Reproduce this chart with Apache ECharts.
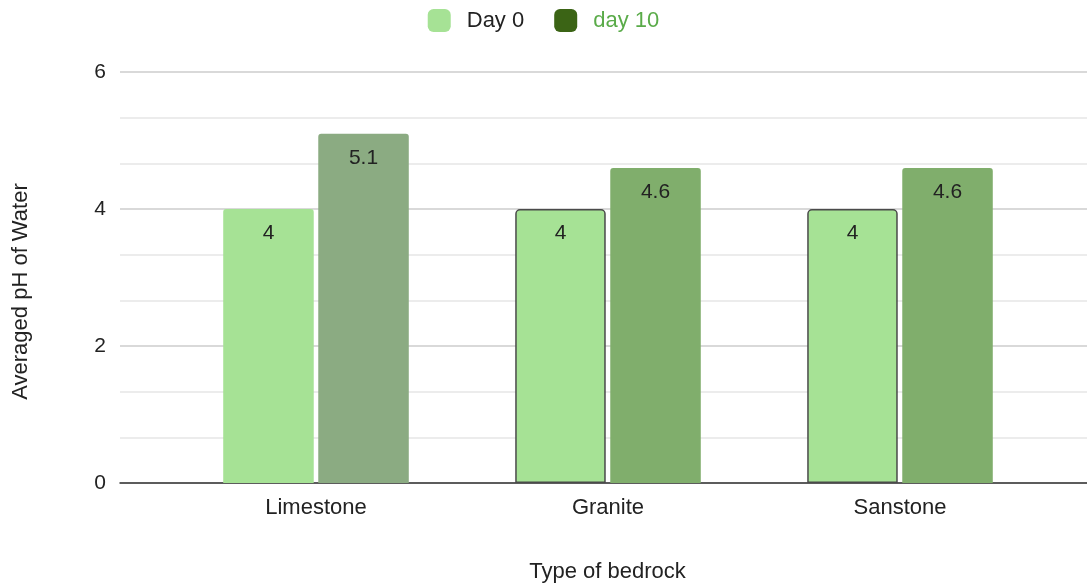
<!DOCTYPE html>
<html>
<head>
<meta charset="utf-8">
<script src="https://cdn.jsdelivr.net/npm/echarts@6/dist/echarts.min.js"></script>
<style>
  html, body { margin: 0; padding: 0; background: #fff; }
  #chart { width: 1087px; height: 583px; }
</style>
</head>
<body>
<div id="chart"></div>
<script>
const categories = ['Limestone', 'Granite', 'Sanstone'];
const day0 = [4, 4, 4];
const day10 = [5.1, 4.6, 4.6];
const yTicks = [0, 2, 4, 6];

// per-bar looks (the source chart styles some bars differently)
const day0Border = [false, true, true];
const day10Colors = ['#8bab82', '#80ae6c', '#80ae6c'];

const font = '"Liberation Sans", Arial, sans-serif';
const chart = echarts.init(document.getElementById('chart'));

const label = {
  show: true,
  position: 'insideTop',
  distance: 14,
  color: '#222',
  fontSize: 21,
  fontFamily: font
};

chart.setOption({
  animation: false,
  legend: {
    top: 4,
    left: 'center',
    itemWidth: 23,
    itemHeight: 23,
    itemGap: 30,
    icon: 'roundRect',
    textStyle: { fontSize: 22, fontFamily: font, color: '#222', padding: [0, 0, 0, 11] },
    data: [
      { name: 'Day 0' },
      { name: 'day 10', textStyle: { color: '#5aab49' } }
    ]
  },
  grid: [
    { left: 120, right: 0, top: 72, bottom: 100, outerBoundsMode: 'none', containLabel: false },
    { left: 170, right: 41, top: 72, bottom: 100, outerBoundsMode: 'none', containLabel: false }
  ],
  xAxis: [
    {
      gridIndex: 0, type: 'value', min: 0, max: 1,
      axisLine: { show: true, onZero: false, lineStyle: { color: '#333', width: 1.5 } },
      axisTick: { show: false }, axisLabel: { show: false }, splitLine: { show: false },
      name: 'Type of bedrock', nameLocation: 'middle', nameGap: 78,
      nameTextStyle: { fontSize: 22, fontFamily: font, color: '#222', padding: [0, 0, 0, 8] }
    },
    {
      gridIndex: 1, type: 'category', data: categories,
      axisLine: { show: false }, axisTick: { show: false },
      axisLabel: { fontSize: 22, fontFamily: font, color: '#222', margin: 14 }
    }
  ],
  yAxis: [
    {
      gridIndex: 0, type: 'value', min: yTicks[0], max: yTicks[yTicks.length - 1], interval: 2,
      axisLine: { show: false }, axisTick: { show: false },
      axisLabel: { fontSize: 21, fontFamily: font, color: '#222', margin: 14 },
      splitLine: { lineStyle: { color: '#cccccc', width: 1.5 } },
      minorTick: { show: false, splitNumber: 3 },
      minorSplitLine: { show: true, lineStyle: { color: '#e6e6e6', width: 1.5 } },
      name: 'Averaged pH of Water', nameLocation: 'middle', nameGap: 88,
      nameTextStyle: { fontSize: 22, fontFamily: font, color: '#222', padding: [0, 28, 0, 0] }
    },
    {
      gridIndex: 1, type: 'value', min: yTicks[0], max: yTicks[yTicks.length - 1], interval: 2,
      show: false, splitLine: { show: false }
    }
  ],
  series: [
    {
      name: 'Day 0', type: 'bar', xAxisIndex: 1, yAxisIndex: 1,
      barWidth: '31%', barGap: '5%',
      itemStyle: { color: '#a6e295', borderRadius: [3, 3, 0, 0] },
      label: label,
      data: day0.map((v, i) => day0Border[i]
        ? { value: v, itemStyle: { borderColor: '#4a4a4a', borderWidth: 1.5, borderRadius: [4, 4, 0, 0] } }
        : { value: v })
    },
    {
      name: 'day 10', type: 'bar', xAxisIndex: 1, yAxisIndex: 1,
      barWidth: '31%', barGap: '5%',
      itemStyle: { color: '#3b6415', borderRadius: [3, 3, 0, 0] },
      label: label,
      data: day10.map((v, i) => ({ value: v, itemStyle: { color: day10Colors[i] } }))
    }
  ]
});
</script>
</body>
</html>
